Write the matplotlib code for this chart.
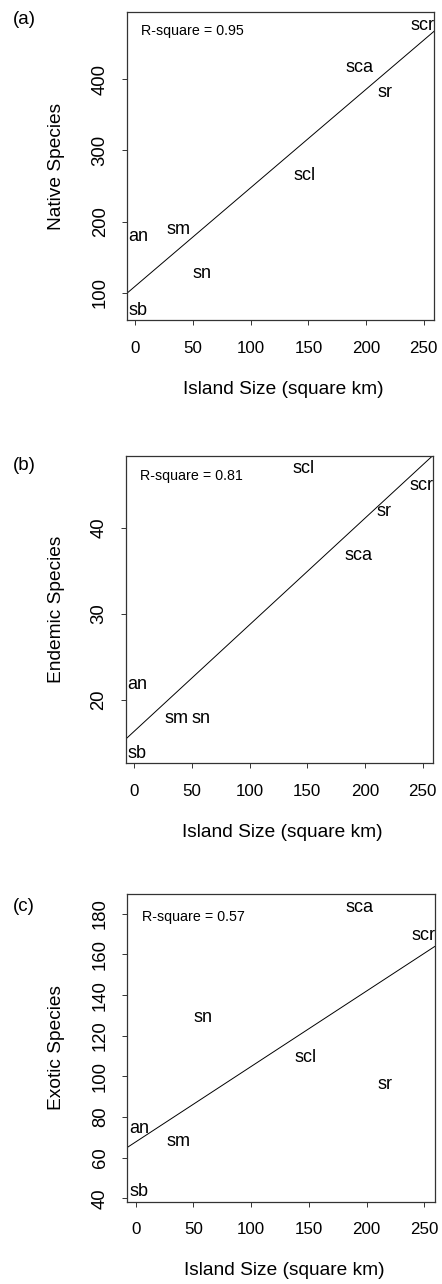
import numpy as np
import matplotlib
matplotlib.use("Agg")
import matplotlib.pyplot as plt
from matplotlib.transforms import offset_copy

plt.rcParams['font.family'] = ['Liberation Sans', 'DejaVu Sans']

islands = ["sb", "an", "sm", "sn", "scl", "sca", "sr", "scr"]
island_size = [2.6, 2.9, 37, 58, 147, 194, 216, 249]
native = [78, 182, 191, 130, 267, 418, 384, 478]
endemic = [14, 22, 18, 18, 47, 37, 42, 45]
exotic = [44, 75, 69, 130, 110, 184, 97, 170]

panel_letters = ["(a)", "(b)", "(c)"]
y_labels = ["Native Species", "Endemic Species", "Exotic Species"]
r_square = ["0.95", "0.81", "0.57"]
y_ticks = [[100, 200, 300, 400], [20, 30, 40], [40, 60, 80, 100, 120, 140, 160, 180]]
x_ticks = [0, 50, 100, 150, 200, 250]
x_label = "Island Size (square km)"

W, H = 442, 1284
fig = plt.figure(figsize=(W / 100, H / 100), dpi=100)

# axes boxes in pixels: left, top, right, bottom
boxes = [(127, 12, 434, 320), (125.7, 455.7, 433, 763.3), (127.3, 894.3, 434.7, 1201.7)]
rsq_offsets = [18.7, 20.3, 22.4]
letter_y = [20, 465, 906.7]

def r_range(v):
    v = np.asarray(v, float)
    lo, hi = v.min(), v.max()
    d = (hi - lo) * 0.04
    return lo - d, hi + d

x = np.asarray(island_size, float)
for i, yvals in enumerate([native, endemic, exotic]):
    l, t, r, b = boxes[i]
    ax = fig.add_axes([l / W, 1 - b / H, (r - l) / W, (b - t) / H])
    y = np.asarray(yvals, float)
    ax.set_xlim(*r_range(x))
    ax.set_ylim(*r_range(y))
    tr = offset_copy(ax.transData, fig=fig, x=0, y=-1.6, units="dots")
    for name, xi, yi in zip(islands, x, y):
        ax.text(xi, yi, name, ha="center", va="center", fontsize=13, transform=tr)
    slope, icpt = np.polyfit(x, y, 1)
    xl = np.array(ax.get_xlim())
    ax.plot(xl, icpt + slope * xl, color="black", lw=0.7, clip_on=True)
    ax.set_xlim(*r_range(x))
    ax.text(14.3 / (r - l), 1 - rsq_offsets[i] / (b - t), "R-square = " + r_square[i],
            transform=ax.transAxes, ha="left", va="center", fontsize=10.3)
    ax.set_xticks(x_ticks)
    ax.set_yticks(y_ticks[i])
    ax.tick_params(axis="both", direction="out", length=3.5, width=0.7, color="#333333")
    ax.tick_params(axis="x", labelsize=12.2, pad=11.3)
    ax.tick_params(axis="y", labelrotation=90, labelsize=13.3, pad=9.7)
    for lab in ax.get_yticklabels():
        lab.set_verticalalignment("center")
    for sp in ax.spines.values():
        sp.set_linewidth(0.9)
        sp.set_color("#333333")
    ax.set_xlabel(x_label, fontsize=13.8)
    ax.xaxis.set_label_coords(0.5 + 3 / (r - l), -69 / (b - t))
    ax.xaxis.label.set_verticalalignment("center")
    ax.set_ylabel(y_labels[i], fontsize=13.8)
    ax.yaxis.set_label_coords(-(l - 57) / (r - l), 0.5)
    ax.yaxis.label.set_verticalalignment("center")
    fig.text(13 / W, 1 - letter_y[i] / H, panel_letters[i], ha="left", va="center", fontsize=13.5)

fig.savefig("out.png", dpi=100)
